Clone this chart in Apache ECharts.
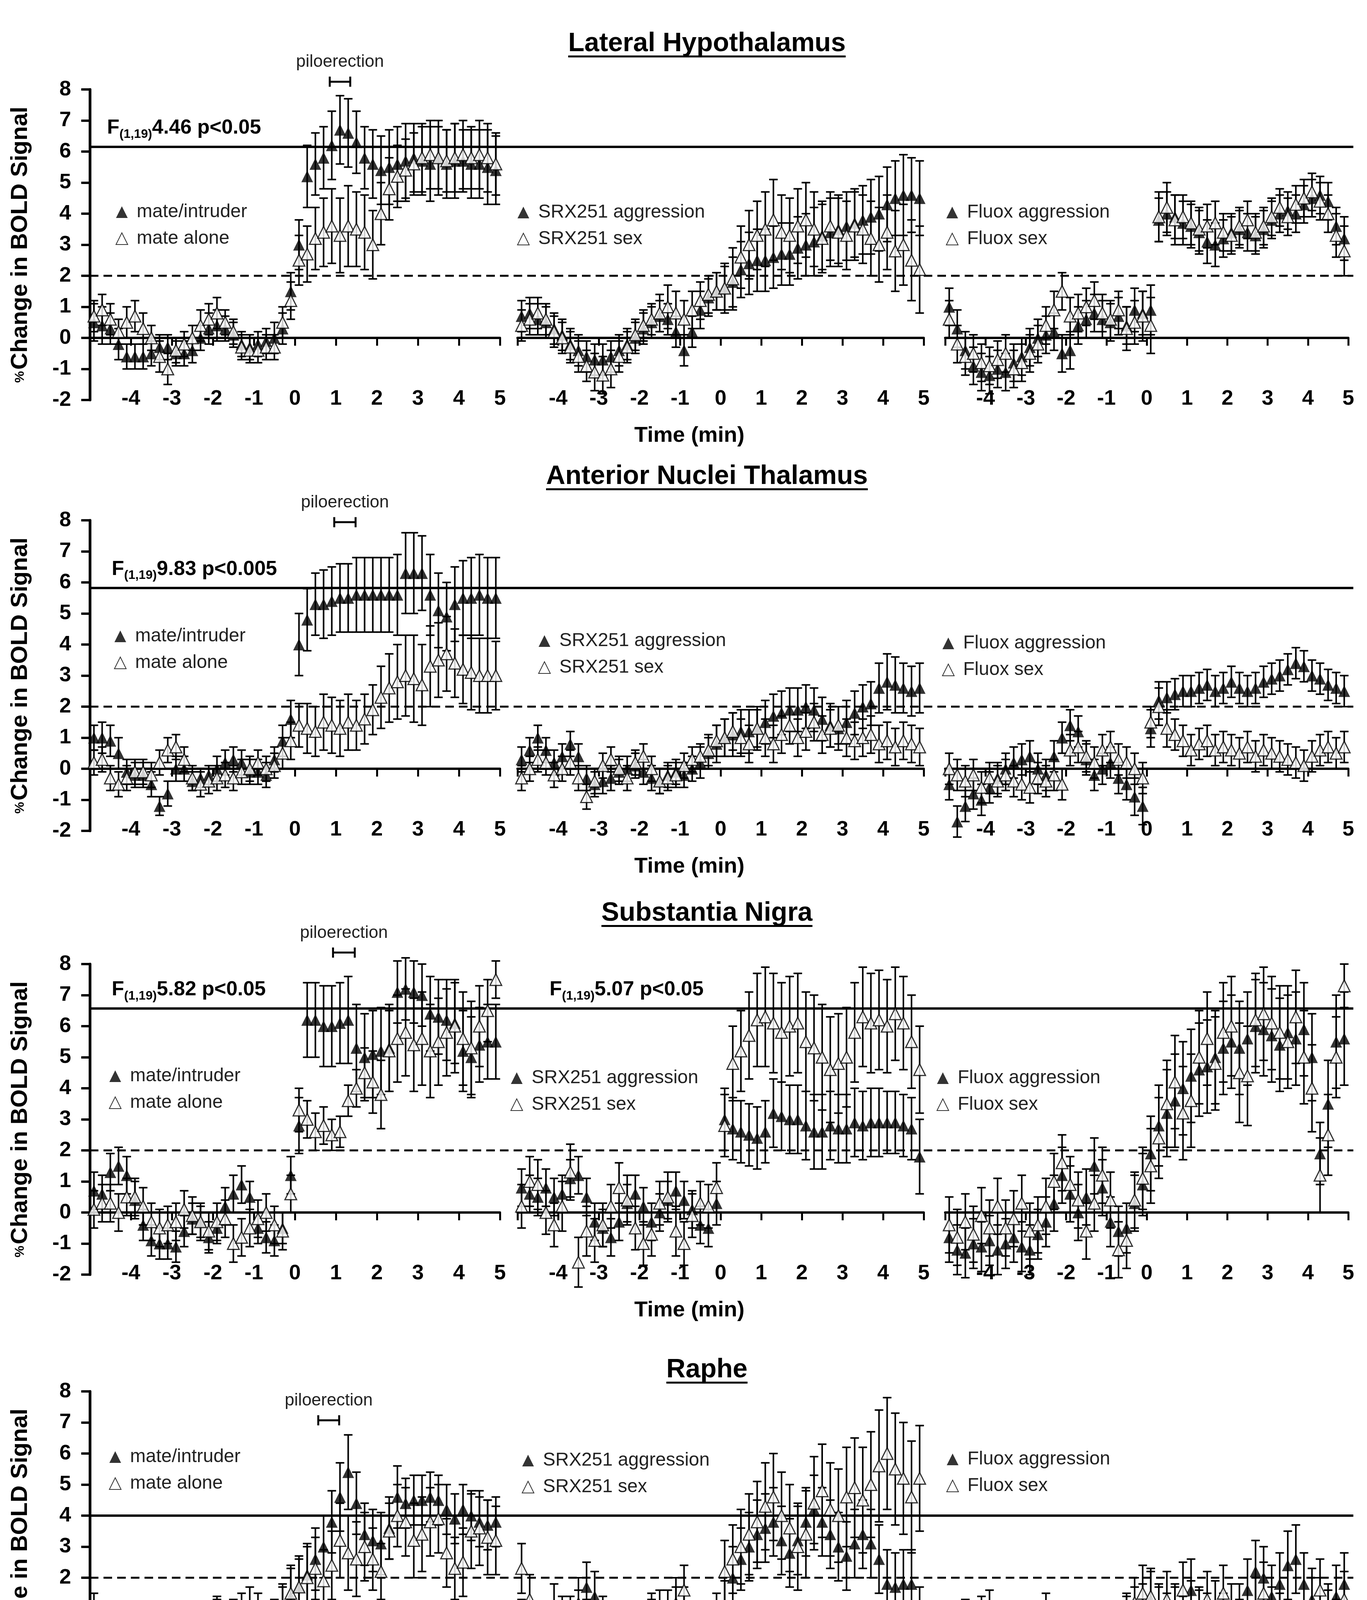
<!DOCTYPE html>
<html>
<head>
<meta charset="utf-8">
<script src="https://cdn.jsdelivr.net/npm/echarts@6/dist/echarts.min.js"></script>
<style>
  html, body { margin: 0; padding: 0; background: #fff; }
  #chart { width: 3500px; height: 5649px; }
</style>
</head>
<body>
<div id="chart"></div>
<script>
// sample times (min), one point every 12 s
const time = [-4.9,-4.7,-4.5,-4.3,-4.1,-3.9,-3.7,-3.5,-3.3,-3.1,
  -2.9,-2.7,-2.5,-2.3,-2.1,-1.9,-1.7,-1.5,-1.3,-1.1,
  -0.9,-0.7,-0.5,-0.3,-0.1,0.1,0.3,0.5,0.7,0.9,
  1.1,1.3,1.5,1.7,1.9,2.1,2.3,2.5,2.7,2.9,
  3.1,3.3,3.5,3.7,3.9,4.1,4.3,4.5,4.7,4.9];
const xTickLabels = [-4, -3, -2, -1, 0, 1, 2, 3, 4, 5];
const regions = ['Lateral Hypothalamus', 'Anterior Nuclei Thalamus', 'Substantia Nigra', 'Raphe', 'Periaqueductal Gray'];
const legendNames = [['mate/intruder', 'mate alone'], ['SRX251 aggression', 'SRX251 sex'], ['Fluox aggression', 'Fluox sex']];
const thresholds = [6.15, 5.82, 6.57, 4.0, 5.91];
const baseline = 2;
const statText = ['4.46 p<0.05', '9.83 p<0.005', '5.82 p<0.05', '5.07 p<0.05', '7.70 p<0.05'];
const statPanel = [[0, 0], [1, 0], [2, 0], [2, 1], [4, 0]];
const piloStart = [0.85, 0.96, 0.93, 0.57, 0.52];
const piloEnd = [1.35, 1.48, 1.46, 1.08, 1.04];
const piloLevel = [8.25, 7.94, 8.37, 7.07, 7.15];

// Lateral Hypothalamus
const lhMateIntr = [0.5,0.4,0.3,-0.2,-0.6,-0.6,-0.6,-0.5,-0.3,-0.3,
  -0.5,-0.5,-0.4,0.0,0.3,0.4,0.3,0.1,-0.2,-0.3,
  -0.2,-0.1,0.0,0.3,1.5,3.0,5.2,5.6,5.8,6.2,
  6.7,6.6,6.3,5.8,5.6,5.4,5.5,5.6,5.7,5.8,
  5.7,5.6,5.8,5.6,5.7,5.7,5.6,5.6,5.5,5.4];
const lhMateIntrErr = [0.6,0.6,0.5,0.5,0.4,0.4,0.4,0.4,0.4,0.4,
  0.4,0.4,0.4,0.4,0.5,0.5,0.4,0.4,0.4,0.4,
  0.4,0.4,0.5,0.5,0.6,0.8,1.0,1.0,1.0,1.1,
  1.1,1.1,1.0,1.0,1.1,1.1,1.2,1.2,1.2,1.1,
  1.1,1.2,1.2,1.1,1.2,1.0,1.1,1.1,1.2,1.1];
const lhMateAlone = [0.7,0.9,0.6,0.2,0.5,0.7,0.3,0.0,-0.6,-1.0,
  -0.4,-0.2,0.0,0.4,0.6,0.8,0.5,0.2,-0.3,-0.4,
  -0.4,-0.3,-0.3,0.5,1.2,2.5,2.7,3.2,3.4,3.6,
  3.3,3.6,3.5,3.4,3.0,4.0,4.8,5.2,5.4,5.6,
  5.8,5.9,5.8,5.7,5.8,5.9,5.8,5.9,5.8,5.6];
const lhMateAloneErr = [0.5,0.5,0.5,0.4,0.5,0.5,0.5,0.4,0.5,0.5,
  0.4,0.4,0.4,0.5,0.5,0.5,0.4,0.4,0.4,0.4,
  0.4,0.4,0.4,0.5,0.6,0.8,0.9,1.0,1.1,1.2,
  1.2,1.3,1.2,1.2,1.1,1.0,1.0,1.0,1.0,1.0,
  1.1,1.1,1.0,1.0,1.1,1.1,1.0,1.1,1.1,1.0];
const lhSrxAggr = [0.7,0.8,0.6,0.5,0.3,0.1,-0.2,-0.4,-0.6,-0.7,
  -0.7,-0.6,-0.4,-0.2,0.0,0.3,0.5,0.7,0.6,0.2,
  -0.4,0.2,0.9,1.3,1.5,1.6,1.8,2.2,2.4,2.5,
  2.5,2.6,2.7,2.7,2.9,3.0,3.1,3.3,3.4,3.5,
  3.6,3.7,3.8,3.9,4.0,4.3,4.5,4.6,4.6,4.5];
const lhSrxAggrErr = [0.5,0.5,0.5,0.5,0.5,0.5,0.5,0.5,0.5,0.5,
  0.5,0.5,0.5,0.5,0.5,0.5,0.5,0.5,0.5,0.5,
  0.5,0.5,0.6,0.6,0.6,0.7,0.8,0.9,1.0,1.0,
  1.0,1.0,1.0,1.0,1.0,1.0,1.1,1.1,1.1,1.1,
  1.1,1.1,1.1,1.2,1.2,1.2,1.2,1.3,1.2,1.2];
const lhSrxSex = [0.4,0.6,0.8,0.6,0.2,0.0,-0.3,-0.6,-0.9,-1.1,
  -1.2,-1.0,-0.6,-0.3,0.1,0.4,0.6,0.8,1.0,0.8,
  0.6,0.9,1.2,1.4,1.5,1.6,1.9,2.6,3.0,3.3,
  3.5,3.8,3.4,3.3,3.6,3.8,3.5,3.2,3.6,3.4,
  3.3,3.6,3.5,3.2,3.0,3.4,2.8,3.0,2.5,2.2];
const lhSrxSexErr = [0.5,0.5,0.5,0.5,0.5,0.5,0.5,0.5,0.5,0.6,
  0.6,0.6,0.5,0.5,0.5,0.5,0.5,0.6,0.7,0.7,
  0.6,0.6,0.6,0.6,0.6,0.8,1.0,1.0,1.1,1.1,
  1.2,1.3,1.2,1.2,1.2,1.2,1.2,1.1,1.1,1.1,
  1.1,1.1,1.1,1.2,1.2,1.2,1.3,1.3,1.3,1.4];
const lhFluoxAggr = [1.0,0.3,-0.4,-0.9,-1.1,-1.2,-1.0,-1.1,-0.8,-0.6,
  -0.3,0.0,0.1,0.2,-0.5,-0.4,0.4,0.6,0.8,0.6,
  0.5,0.7,0.4,0.9,0.8,0.9,3.8,4.0,3.9,3.7,
  3.6,3.4,3.1,3.0,3.2,3.4,3.5,3.4,3.3,3.5,
  3.8,4.0,4.1,4.0,4.3,4.5,4.6,4.4,3.6,3.2];
const lhFluoxAggrErr = [0.6,0.6,0.6,0.6,0.6,0.6,0.6,0.6,0.6,0.6,
  0.6,0.6,0.6,0.6,0.6,0.6,0.6,0.6,0.6,0.6,
  0.6,0.6,0.6,0.7,0.7,0.8,0.7,0.7,0.7,0.7,
  0.7,0.7,0.7,0.7,0.6,0.6,0.6,0.6,0.6,0.6,
  0.6,0.6,0.6,0.6,0.6,0.6,0.6,0.6,0.6,0.7];
const lhFluoxSex = [0.6,-0.2,-0.6,-0.5,-0.8,-0.9,-0.7,-0.5,-1.0,-0.8,
  -0.5,-0.2,0.4,0.9,1.5,0.7,0.8,1.0,1.2,0.8,
  0.6,0.9,0.3,0.5,0.7,0.4,3.9,4.2,3.8,3.9,
  3.7,3.5,3.6,3.7,3.4,3.3,3.6,3.8,3.4,3.6,
  3.9,4.2,3.9,4.3,4.5,4.7,4.4,4.0,3.3,2.8];
const lhFluoxSexErr = [0.6,0.6,0.6,0.6,0.6,0.6,0.6,0.6,0.6,0.6,
  0.6,0.6,0.6,0.6,0.6,0.6,0.6,0.6,0.6,0.6,
  0.6,0.6,0.7,0.7,0.8,0.9,0.8,0.8,0.8,0.7,
  0.7,0.7,0.7,0.7,0.6,0.6,0.6,0.6,0.6,0.6,
  0.6,0.6,0.6,0.6,0.6,0.6,0.6,0.6,0.7,0.8];

// Anterior Nuclei Thalamus
const antMateIntr = [1.0,1.0,0.9,0.5,-0.1,-0.2,-0.2,-0.5,-1.2,-0.8,
  0.0,0.0,-0.4,-0.3,-0.2,0.0,0.2,0.3,0.2,-0.1,
  -0.1,-0.2,0.3,0.9,1.6,4.0,4.8,5.3,5.3,5.4,
  5.5,5.5,5.6,5.6,5.6,5.6,5.6,5.6,6.3,6.3,
  6.3,5.6,5.1,4.9,5.3,5.5,5.5,5.6,5.5,5.5];
const antMateIntrErr = [0.4,0.5,0.5,0.5,0.4,0.4,0.4,0.4,0.3,0.4,
  0.4,0.4,0.3,0.3,0.3,0.4,0.4,0.4,0.4,0.4,
  0.4,0.4,0.4,0.5,0.6,1.0,1.0,1.0,1.1,1.1,
  1.1,1.1,1.2,1.2,1.2,1.2,1.2,1.3,1.3,1.3,
  1.2,1.3,1.2,1.1,1.2,1.2,1.3,1.3,1.3,1.3];
const antMateAlone = [0.2,0.3,-0.3,-0.5,-0.3,-0.1,-0.1,-0.2,0.2,0.6,
  0.7,0.3,-0.3,-0.5,-0.4,-0.3,-0.2,-0.3,-0.1,0.0,
  0.2,0.0,0.1,0.5,0.9,1.4,1.3,1.2,1.5,1.4,
  1.3,1.5,1.4,1.6,1.9,2.3,2.6,2.8,3.0,2.9,
  2.7,3.3,3.5,3.7,3.4,3.2,3.1,3.0,3.0,3.0];
const antMateAloneErr = [0.4,0.4,0.4,0.4,0.4,0.4,0.4,0.4,0.4,0.4,
  0.4,0.4,0.4,0.4,0.4,0.4,0.4,0.4,0.4,0.4,
  0.4,0.4,0.4,0.5,0.6,0.7,0.8,0.8,0.9,0.9,
  0.9,0.9,0.8,0.8,0.8,1.0,1.1,1.2,1.3,1.4,
  1.3,1.3,1.2,1.2,1.1,1.1,1.2,1.2,1.2,1.1];
const antSrxAggr = [0.3,0.6,1.0,0.6,0.2,0.4,0.8,0.4,-0.3,-0.5,
  -0.4,-0.3,-0.1,0.0,0.1,-0.1,-0.3,-0.4,-0.2,-0.1,
  -0.2,0.0,0.2,0.5,0.8,1.0,1.1,1.2,1.2,1.3,
  1.5,1.7,1.8,1.9,1.9,2.0,1.9,1.6,1.4,1.3,
  1.5,1.8,2.0,2.1,2.6,2.8,2.7,2.6,2.5,2.6];
const antSrxAggrErr = [0.4,0.4,0.4,0.4,0.4,0.4,0.4,0.4,0.4,0.4,
  0.4,0.4,0.4,0.4,0.4,0.4,0.4,0.4,0.4,0.4,
  0.4,0.4,0.5,0.5,0.6,0.6,0.7,0.7,0.7,0.7,
  0.7,0.7,0.7,0.7,0.7,0.7,0.7,0.7,0.7,0.7,
  0.7,0.7,0.7,0.7,0.8,0.9,0.9,0.8,0.8,0.8];
const antSrxSex = [-0.3,0.0,0.3,0.2,-0.2,0.0,0.2,-0.3,-0.9,-0.4,
  0.1,0.3,0.0,-0.3,0.2,0.4,0.0,-0.4,-0.3,-0.2,
  0.1,0.3,0.4,0.6,0.9,1.0,1.2,1.0,0.8,1.3,
  1.0,0.8,1.1,1.4,1.0,1.2,1.5,1.1,1.3,1.4,
  1.0,0.9,1.0,1.1,0.8,0.9,0.7,0.9,0.8,0.7];
const antSrxSexErr = [0.4,0.4,0.4,0.4,0.4,0.4,0.4,0.4,0.4,0.4,
  0.4,0.4,0.4,0.4,0.4,0.4,0.4,0.4,0.4,0.4,
  0.4,0.4,0.4,0.5,0.5,0.6,0.6,0.6,0.6,0.6,
  0.6,0.6,0.6,0.6,0.6,0.6,0.6,0.6,0.6,0.6,
  0.6,0.6,0.6,0.6,0.6,0.6,0.6,0.6,0.6,0.6];
const antFluoxAggr = [-0.5,-1.7,-1.2,-0.8,-1.0,-0.6,-0.3,0.0,0.2,0.3,
  0.4,0.0,-0.2,0.4,1.0,1.4,1.2,0.3,-0.2,0.0,
  0.2,-0.3,-0.5,-0.9,-1.2,1.3,2.2,2.3,2.4,2.5,
  2.5,2.6,2.7,2.5,2.6,2.8,2.6,2.5,2.6,2.8,
  2.9,3.0,3.2,3.4,3.3,3.0,2.9,2.7,2.6,2.5];
const antFluoxAggrErr = [0.5,0.5,0.5,0.5,0.5,0.5,0.5,0.5,0.5,0.5,
  0.5,0.5,0.5,0.5,0.5,0.5,0.5,0.5,0.5,0.5,
  0.5,0.5,0.5,0.6,0.6,0.6,0.6,0.5,0.5,0.5,
  0.5,0.5,0.5,0.5,0.5,0.5,0.5,0.5,0.5,0.5,
  0.5,0.5,0.5,0.5,0.5,0.5,0.5,0.5,0.5,0.5];
const antFluoxSex = [0.0,-0.2,-0.4,-0.2,-0.6,-0.3,-0.4,-0.2,-0.4,-0.5,
  -0.6,-0.3,-0.4,-0.2,-0.5,0.6,0.7,0.4,0.2,0.6,
  0.7,0.3,0.2,0.0,-0.3,1.5,2.0,1.3,1.1,0.9,
  0.6,0.8,0.9,0.6,0.7,0.6,0.5,0.7,0.4,0.6,
  0.5,0.4,0.3,0.2,0.1,0.4,0.6,0.7,0.5,0.7];
const antFluoxSexErr = [0.5,0.5,0.5,0.5,0.5,0.5,0.5,0.5,0.5,0.5,
  0.5,0.5,0.5,0.5,0.5,0.5,0.5,0.5,0.5,0.5,
  0.5,0.5,0.5,0.5,0.5,0.5,0.6,0.6,0.5,0.5,
  0.5,0.5,0.5,0.5,0.5,0.5,0.5,0.5,0.5,0.5,
  0.5,0.5,0.5,0.5,0.5,0.5,0.5,0.5,0.5,0.5];

// Substantia Nigra
const snMateIntr = [0.7,0.6,1.3,1.5,1.2,0.4,-0.4,-0.9,-1.0,-1.0,
  -1.1,-0.6,-0.2,-0.3,-0.8,-0.5,0.2,0.6,0.9,0.5,
  -0.5,-0.8,-0.9,-0.5,1.2,2.8,6.2,6.2,6.0,6.0,
  6.1,6.2,5.3,5.0,5.1,5.2,5.3,7.1,7.2,7.1,
  7.0,6.4,6.3,6.2,6.1,5.2,5.0,5.4,5.5,5.5];
const snMateIntrErr = [0.6,0.6,0.6,0.6,0.6,0.6,0.5,0.5,0.5,0.5,
  0.5,0.5,0.5,0.5,0.5,0.5,0.6,0.6,0.6,0.5,
  0.5,0.5,0.5,0.5,0.6,0.9,1.2,1.2,1.3,1.3,
  1.3,1.4,1.4,1.4,1.4,1.4,1.4,1.0,1.0,1.0,
  1.0,1.2,1.2,1.3,1.3,1.3,1.3,1.2,1.2,1.2];
const snMateAlone = [0.1,0.3,0.3,0.0,0.5,0.5,0.2,-0.3,-0.5,-0.4,
  -0.3,0.1,-0.1,-0.3,-0.6,-0.3,-0.2,-1.0,-0.8,-0.5,
  -0.2,0.0,-0.4,-0.6,0.6,3.3,3.0,2.6,2.8,2.5,
  2.6,3.6,4.0,4.5,4.2,3.8,5.2,5.6,5.8,5.4,
  5.6,5.2,5.5,5.8,6.0,5.6,5.3,6.0,6.5,7.5];
const snMateAloneErr = [0.6,0.6,0.6,0.6,0.6,0.6,0.6,0.6,0.6,0.6,
  0.6,0.6,0.6,0.6,0.6,0.6,0.6,0.6,0.6,0.6,
  0.6,0.6,0.6,0.6,0.6,0.7,0.6,0.6,0.6,0.5,
  0.5,0.5,0.6,0.8,1.0,1.1,1.3,1.4,1.4,1.5,
  1.5,1.5,1.4,1.4,1.5,1.5,1.5,1.3,1.0,0.6];
const snSrxAggr = [0.8,0.6,0.5,0.8,0.5,0.6,1.1,1.2,0.5,-0.3,
  -0.5,-0.8,-0.3,0.3,0.6,0.2,-0.3,0.0,0.4,0.7,
  0.4,0.1,-0.4,-0.5,0.3,3.0,2.7,2.6,2.5,2.4,
  2.6,3.2,3.1,3.0,3.0,2.8,2.6,2.6,2.8,2.7,
  2.7,2.9,2.8,2.9,2.9,2.9,2.9,2.8,2.7,1.8];
const snSrxAggrErr = [0.6,0.6,0.6,0.6,0.6,0.6,0.6,0.6,0.6,0.6,
  0.6,0.6,0.6,0.6,0.6,0.6,0.6,0.6,0.6,0.6,
  0.6,0.6,0.6,0.6,0.7,1.0,1.0,1.0,1.0,1.0,
  1.0,1.1,1.1,1.1,1.1,1.1,1.2,1.2,1.1,1.1,
  1.1,1.1,1.1,1.1,1.1,1.0,1.0,1.0,1.0,1.2];
const snSrxSex = [0.2,1.0,0.9,0.0,-0.4,0.2,1.3,-1.6,-0.6,-0.9,
  -0.4,0.2,0.8,0.4,-0.5,-1.0,-0.7,0.3,0.5,-0.6,
  -1.0,-0.1,0.3,0.2,0.8,2.8,4.8,5.2,5.7,6.2,
  6.3,6.1,5.8,6.0,6.1,5.5,5.3,5.0,4.6,4.8,
  5.0,5.8,6.3,6.1,6.2,6.0,6.4,6.1,5.5,4.6];
const snSrxSexErr = [0.7,0.8,0.8,0.7,0.7,0.8,0.9,0.8,0.8,0.7,
  0.7,0.7,0.8,0.8,0.7,0.7,0.7,0.7,0.8,0.8,
  0.7,0.7,0.7,0.7,0.8,1.0,1.2,1.3,1.4,1.5,
  1.6,1.6,1.6,1.6,1.6,1.6,1.7,1.7,1.7,1.6,
  1.6,1.6,1.6,1.6,1.6,1.5,1.5,1.5,1.5,1.4];
const snFluoxAggr = [-0.8,-1.2,-1.3,-1.0,-1.1,-0.9,-1.2,-1.0,-0.8,-1.1,
  -1.2,-0.7,-0.3,0.3,1.2,0.6,0.0,0.5,1.5,0.8,
  -0.3,-0.6,-0.5,0.3,0.9,1.9,2.8,3.2,3.6,4.0,
  4.4,4.6,4.7,5.0,5.3,5.5,5.3,5.6,6.0,5.9,
  5.7,5.4,5.8,5.6,5.9,5.0,1.9,3.5,5.5,5.6];
const snFluoxAggrErr = [0.8,0.8,0.8,0.8,0.8,0.8,0.8,0.8,0.8,0.8,
  0.8,0.8,0.8,0.9,0.9,0.9,0.9,0.9,0.9,0.9,
  0.8,0.8,0.8,0.9,1.0,1.2,1.3,1.4,1.5,1.5,
  1.5,1.5,1.5,1.5,1.5,1.5,1.5,1.5,1.5,1.5,
  1.5,1.5,1.5,1.5,1.5,1.4,1.0,1.4,1.5,1.5];
const snFluoxSex = [-0.4,-0.8,-0.3,-0.7,-0.1,-0.5,0.2,-0.5,-0.2,0.3,
  -0.6,-0.4,0.2,1.0,1.6,0.9,0.4,-0.6,0.3,1.2,
  0.4,-1.2,-0.9,0.4,1.1,1.5,2.4,3.5,4.2,3.2,
  3.6,5.0,5.6,4.8,5.8,6.0,4.5,4.4,6.2,6.4,
  6.1,5.8,5.5,6.3,5.0,4.0,1.2,2.5,5.0,7.3];
const snFluoxSexErr = [0.9,0.9,0.9,0.9,0.9,0.9,0.9,0.9,0.9,0.9,
  0.9,0.9,0.9,0.9,0.9,0.9,0.9,0.9,0.9,0.9,
  0.9,0.9,0.9,0.9,1.0,1.2,1.3,1.4,1.5,1.5,
  1.5,1.5,1.5,1.5,1.6,1.6,1.6,1.6,1.5,1.5,
  1.5,1.5,1.5,1.5,1.5,1.4,1.2,1.3,1.3,0.7];

// Raphe
const rapheMateIntr = [0.8,0.3,-0.2,-0.6,-0.9,-1.4,-1.0,-0.2,0.2,-0.4,
  -0.3,-0.2,-0.3,-0.5,0.2,0.5,0.4,0.5,0.7,0.9,
  0.7,0.2,0.5,1.0,1.4,1.7,2.1,2.6,3.0,3.8,
  4.6,5.4,4.4,3.4,3.2,3.1,3.6,4.6,4.4,4.5,
  4.5,4.6,4.5,4.2,3.9,4.2,4.0,3.8,3.7,3.8];
const rapheMateIntrErr = [0.7,0.8,0.8,0.8,0.7,0.5,0.6,0.8,0.8,0.7,
  0.7,0.7,0.7,0.7,0.8,0.8,0.8,0.8,0.8,0.8,
  0.8,0.8,0.8,0.8,0.9,0.9,1.0,1.0,1.0,1.0,
  1.1,1.2,1.0,1.0,1.0,1.0,1.0,1.0,0.8,0.8,
  0.8,0.8,0.8,0.8,0.8,0.8,0.8,0.8,0.8,0.8];
const rapheMateAlone = [0.2,-0.4,0.0,-0.5,-1.2,-1.8,-1.6,-1.0,-1.5,-0.9,
  -0.6,0.0,0.4,0.2,0.1,0.7,0.0,0.4,-0.2,0.0,
  -0.4,-0.2,0.3,0.9,1.5,1.7,2.0,2.3,1.9,2.4,
  3.2,2.8,2.6,3.0,2.6,2.2,3.5,4.0,3.8,3.2,
  3.4,3.8,3.9,2.8,2.3,2.5,3.5,3.6,3.3,3.2];
const rapheMateAloneErr = [0.8,0.9,0.9,0.8,0.7,0.4,0.5,0.7,0.6,0.7,
  0.7,0.7,0.7,0.7,0.7,0.7,0.7,0.7,0.7,0.7,
  0.7,0.8,0.8,0.8,0.9,1.0,1.0,1.0,1.0,1.1,
  1.2,1.2,1.2,1.1,1.0,0.9,0.9,1.0,1.1,1.2,
  1.2,1.1,1.1,1.1,1.0,1.1,1.2,1.2,1.2,1.1];
const rapheSrxAggr = [0.6,0.3,0.2,0.1,0.3,0.5,0.7,1.2,1.7,1.4,
  0.6,-0.3,-0.8,-0.6,-0.2,0.2,0.5,0.8,0.8,1.2,
  0.9,0.3,-0.2,-0.6,0.2,1.0,2.0,2.6,3.0,3.4,
  3.6,3.8,3.2,2.8,3.2,3.8,4.2,3.8,3.4,3.0,
  2.7,3.1,3.4,3.1,2.6,1.8,1.7,1.8,1.8,0.7];
const rapheSrxAggrErr = [0.7,0.7,0.7,0.7,0.7,0.7,0.7,0.8,0.8,0.8,
  0.8,0.8,0.8,0.8,0.8,0.8,0.8,0.8,0.8,0.8,
  0.8,0.8,0.8,0.8,0.8,0.9,1.0,1.0,1.1,1.1,
  1.1,1.1,1.1,1.1,1.1,1.1,1.1,1.1,1.1,1.1,
  1.1,1.1,1.1,1.1,1.1,1.1,1.1,1.1,1.1,1.0];
const rapheSrxSex = [2.3,1.3,0.4,0.0,1.0,0.6,0.2,0.8,0.5,-0.1,
  -0.6,-1.3,-1.8,-1.5,-0.3,0.3,0.7,-0.2,-0.6,0.9,
  1.6,0.2,-0.5,-1.0,0.6,2.2,2.6,3.0,3.4,3.8,
  4.3,4.6,4.0,3.6,3.0,3.4,4.4,4.8,4.2,4.0,
  4.6,4.9,4.5,5.0,5.6,6.0,5.5,5.2,4.6,5.2];
const rapheSrxSexErr = [0.8,0.8,0.8,0.8,0.8,0.8,0.8,0.8,0.8,0.8,
  0.8,0.8,0.6,0.7,0.8,0.8,0.8,0.8,0.8,0.8,
  0.8,0.8,0.8,0.8,0.9,1.0,1.1,1.2,1.3,1.3,
  1.4,1.4,1.4,1.4,1.4,1.4,1.5,1.5,1.5,1.5,
  1.6,1.6,1.7,1.7,1.8,1.8,1.8,1.8,1.8,1.7];
const rapheFluoxAggr = [-0.4,-0.8,-0.3,-0.6,-0.2,-0.5,-0.7,-0.5,-0.2,-0.6,
  -0.7,-0.3,0.1,0.2,-0.3,-0.1,0.2,0.0,-0.6,-0.7,
  -0.3,0.1,0.6,0.9,1.0,1.3,0.9,0.6,0.8,0.5,
  1.6,0.8,0.6,0.3,0.6,0.3,0.9,1.6,2.2,2.0,
  1.4,1.8,2.4,2.6,1.8,1.3,1.0,0.8,1.4,1.8];
const rapheFluoxAggrErr = [0.8,0.8,0.9,0.9,0.8,0.8,0.8,0.8,0.8,0.8,
  0.8,0.8,0.8,0.8,0.8,0.8,0.8,0.8,0.9,0.9,
  0.9,0.8,0.8,0.8,0.8,0.9,0.9,0.9,0.9,0.9,
  1.0,0.9,0.9,0.9,0.9,0.9,0.9,1.0,1.0,1.0,
  1.0,1.0,1.1,1.1,1.0,1.0,1.0,1.0,1.0,1.0];
const rapheFluoxSex = [-0.2,0.3,0.5,0.3,0.6,0.8,0.3,-0.4,-0.6,-0.9,
  -0.3,0.4,0.7,0.2,-0.6,-1.0,-0.5,0.1,-0.8,-1.2,
  -0.6,0.3,0.7,1.2,1.5,1.4,0.8,1.3,0.9,1.6,
  1.0,0.7,1.3,1.0,1.5,0.9,0.4,0.2,1.0,1.5,
  0.6,0.3,0.0,-0.5,0.2,1.0,1.6,0.7,0.4,1.3];
const rapheFluoxSexErr = [0.8,0.8,0.8,0.8,0.8,0.8,0.8,0.8,0.8,0.8,
  0.8,0.8,0.8,0.8,0.8,0.8,0.8,0.8,0.8,0.8,
  0.8,0.8,0.8,0.8,0.9,0.9,0.9,0.9,0.9,0.9,
  0.9,0.9,0.9,0.9,0.9,0.9,0.9,0.9,1.0,1.0,
  1.1,1.2,1.2,1.2,1.0,1.0,1.0,0.9,0.9,0.9];

// Periaqueductal Gray
const pagMateIntr = [1.2,1.3,1.1,0.6,-0.1,-0.5,-0.6,-0.6,-0.8,-0.7,
  -0.4,-0.5,-0.8,-1.0,-0.1,0.4,0.6,0.5,0.4,0.3,
  0.1,0.0,0.1,0.2,1.0,2.3,4.5,4.8,5.2,5.4,
  5.5,5.6,5.4,5.1,5.0,5.3,5.6,6.3,6.1,5.8,
  5.6,5.4,5.2,5.1,5.2,5.4,5.3,5.0,4.7,4.4];
const pagMateIntrErr = [0.5,0.5,0.5,0.5,0.4,0.4,0.4,0.4,0.4,0.4,
  0.4,0.4,0.4,0.4,0.5,0.5,0.5,0.5,0.5,0.5,
  0.5,0.5,0.5,0.5,0.6,0.7,0.9,1.0,1.0,1.1,
  1.1,1.1,1.1,1.1,1.2,1.2,1.2,1.1,1.1,1.1,
  1.1,1.2,1.3,1.3,1.4,1.4,1.4,1.4,1.3,1.2];
const pagMateAlone = [1.0,1.2,0.8,0.5,0.0,-0.2,-0.3,-0.2,-0.4,0.0,
  0.2,0.3,0.4,0.2,0.6,0.4,0.2,0.3,0.1,-0.5,
  -0.8,-0.3,0.2,0.6,1.4,0.6,1.4,2.1,2.2,2.3,
  2.6,3.0,3.5,3.9,4.1,4.4,4.6,4.5,4.3,4.7,
  5.0,5.2,5.0,5.3,5.4,5.5,5.3,5.6,5.2,5.0];
const pagMateAloneErr = [0.6,0.6,0.5,0.5,0.4,0.4,0.4,0.4,0.4,0.4,
  0.4,0.4,0.4,0.4,0.4,0.4,0.4,0.4,0.4,0.4,
  0.4,0.4,0.4,0.5,0.5,0.6,0.6,0.7,0.7,0.7,
  0.8,0.9,1.0,1.0,1.1,1.2,1.3,1.4,1.4,1.4,
  1.4,1.3,1.3,1.2,1.2,1.2,1.2,1.2,1.3,1.3];
const pagSrxAggr = [-0.8,-0.6,-0.2,-0.1,0.2,0.1,0.0,0.3,-0.1,0.2,
  0.5,1.0,1.8,0.7,-0.3,-1.2,-0.9,-0.2,0.0,-0.3,
  0.1,0.3,0.6,0.8,1.0,2.2,2.5,2.6,2.7,3.0,
  2.6,2.8,3.0,3.2,3.2,2.9,2.7,2.4,2.2,2.5,
  2.8,2.6,2.4,2.7,2.9,3.2,3.6,3.4,4.2,4.7];
const pagSrxAggrErr = [0.7,0.7,0.7,0.7,0.7,0.7,0.7,0.7,0.7,0.7,
  0.7,0.7,0.7,0.7,0.7,0.7,0.7,0.7,0.7,0.7,
  0.7,0.7,0.7,0.7,0.7,0.7,0.7,0.7,0.7,0.7,
  0.7,0.7,0.7,0.7,0.7,0.7,0.7,0.7,0.7,0.7,
  0.7,0.7,0.7,0.7,0.7,0.8,0.8,0.8,1.0,1.2];
const pagSrxSex = [1.6,1.2,0.9,0.7,0.4,0.8,0.5,0.2,0.4,-0.2,
  -0.7,-0.4,1.6,0.8,0.1,-0.2,-0.4,0.3,0.5,0.6,
  0.4,0.0,-0.5,0.4,1.2,1.6,2.0,2.5,2.8,3.0,
  2.4,2.2,2.5,2.3,2.9,2.2,2.0,1.8,1.9,2.4,
  2.1,2.6,2.9,2.4,2.6,2.2,2.5,2.8,3.0,3.8];
const pagSrxSexErr = [0.7,0.7,0.7,0.7,0.7,0.7,0.7,0.7,0.7,0.7,
  0.7,0.7,0.7,0.7,0.7,0.7,0.7,0.7,0.7,0.7,
  0.7,0.7,0.7,0.7,0.7,0.7,0.7,0.7,0.7,0.7,
  0.7,0.7,0.7,0.7,0.7,0.7,0.7,0.7,0.7,0.7,
  0.7,0.7,0.7,0.7,0.7,0.7,0.7,0.7,0.8,0.9];
const pagFluoxAggr = [1.0,0.6,0.3,0.2,0.4,0.3,0.1,0.0,-0.3,-0.8,
  -1.1,-0.4,0.1,-0.1,0.3,0.5,0.2,0.0,0.4,0.1,
  0.2,0.4,0.6,0.3,0.1,1.2,1.5,1.4,1.8,2.3,
  2.8,2.8,2.4,2.6,2.7,2.3,1.9,1.7,1.6,2.3,
  2.8,3.1,2.9,2.6,2.5,2.7,2.6,2.4,3.0,2.3];
const pagFluoxAggrErr = [0.5,0.5,0.5,0.5,0.5,0.5,0.5,0.5,0.5,0.5,
  0.5,0.5,0.5,0.5,0.5,0.5,0.5,0.5,0.5,0.5,
  0.5,0.5,0.5,0.5,0.5,0.8,0.9,0.9,1.0,1.0,
  1.1,1.1,1.1,1.0,1.0,1.0,1.0,1.0,1.0,1.1,
  1.1,1.2,1.2,1.2,1.1,1.1,1.1,1.1,1.2,1.2];
const pagFluoxSex = [0.8,0.5,0.9,0.6,0.4,1.0,0.6,0.3,0.5,0.0,
  -0.5,0.2,0.4,0.6,0.2,0.4,0.8,0.5,0.3,0.6,
  0.2,0.5,0.8,0.9,1.1,1.4,1.6,1.2,1.1,0.9,
  1.5,1.0,0.9,1.3,1.1,1.0,1.2,1.4,1.0,1.2,
  0.9,1.1,1.5,1.3,1.0,1.2,1.4,1.1,1.3,1.1];
const pagFluoxSexErr = [0.6,0.6,0.6,0.6,0.6,0.6,0.6,0.6,0.6,0.6,
  0.6,0.6,0.6,0.6,0.6,0.6,0.6,0.6,0.6,0.6,
  0.6,0.6,0.6,0.6,0.6,0.8,0.9,0.9,0.9,0.9,
  0.9,0.9,0.9,0.9,0.9,0.9,0.9,0.9,0.9,0.9,
  0.9,0.9,0.9,0.9,0.9,0.9,0.9,0.9,0.9,0.9];

const panels = [
  [[lhMateIntr, lhMateIntrErr, lhMateAlone, lhMateAloneErr],
   [lhSrxAggr, lhSrxAggrErr, lhSrxSex, lhSrxSexErr],
   [lhFluoxAggr, lhFluoxAggrErr, lhFluoxSex, lhFluoxSexErr]],
  [[antMateIntr, antMateIntrErr, antMateAlone, antMateAloneErr],
   [antSrxAggr, antSrxAggrErr, antSrxSex, antSrxSexErr],
   [antFluoxAggr, antFluoxAggrErr, antFluoxSex, antFluoxSexErr]],
  [[snMateIntr, snMateIntrErr, snMateAlone, snMateAloneErr],
   [snSrxAggr, snSrxAggrErr, snSrxSex, snSrxSexErr],
   [snFluoxAggr, snFluoxAggrErr, snFluoxSex, snFluoxSexErr]],
  [[rapheMateIntr, rapheMateIntrErr, rapheMateAlone, rapheMateAloneErr],
   [rapheSrxAggr, rapheSrxAggrErr, rapheSrxSex, rapheSrxSexErr],
   [rapheFluoxAggr, rapheFluoxAggrErr, rapheFluoxSex, rapheFluoxSexErr]],
  [[pagMateIntr, pagMateIntrErr, pagMateAlone, pagMateAloneErr],
   [pagSrxAggr, pagSrxAggrErr, pagSrxSex, pagSrxSexErr],
   [pagFluoxAggr, pagFluoxAggrErr, pagFluoxSex, pagFluoxSexErr]]
];

// layout (px)
const FONT = '"Liberation Sans", Arial, Helvetica, sans-serif';
const rowTop = [229, 1332, 2468, 3562, 4652];
const rowHeight = 795;
const titleY = [112, 1220, 2338, 3507, 4593];
const panelLeft = [230, 1325, 2420];
const panelWidth = [1050, 1040, 1032];
const lineRight = 3465;
const legendPos = [
  [[311, 543], [1339, 544], [2437, 544]],
  [[307, 1629], [1393, 1641], [2427, 1647]],
  [[294, 2755], [1322, 2760], [2413, 2760]],
  [[294, 3730], [1351, 3739], [2438, 3736]],
  [[294, 4949], [1361, 4946], [2444, 4953]]
];
const statLeft = [274, 286, 286, 1407, 274];

const measureCtx = document.createElement('canvas').getContext('2d');
function textWidth(str, font) {
  measureCtx.font = font;
  return measureCtx.measureText(str).width;
}

function errorBars(p, vals, errs) {
  return {
    type: 'custom',
    xAxisIndex: 2 * p,
    yAxisIndex: p,
    silent: true,
    z: 2,
    data: time.map((t, i) => [t, vals[i] - errs[i], vals[i] + errs[i]]),
    encode: {x: 0, y: [1, 2]},
    renderItem: (params, api) => {
      const lo = api.coord([api.value(0), api.value(1)]);
      const hi = api.coord([api.value(0), api.value(2)]);
      const cap = 11;
      const st = {stroke: '#000', lineWidth: 4};
      return {
        type: 'group',
        children: [
          {type: 'line', shape: {x1: lo[0], y1: lo[1], x2: hi[0], y2: hi[1]}, style: st},
          {type: 'line', shape: {x1: hi[0] - cap, y1: hi[1], x2: hi[0] + cap, y2: hi[1]}, style: st},
          {type: 'line', shape: {x1: lo[0] - cap, y1: lo[1], x2: lo[0] + cap, y2: lo[1]}, style: st}
        ]
      };
    }
  };
}

const grid = [], xAxis = [], yAxis = [], series = [], legend = [], graphic = [];

panels.forEach((row, r) => {
  row.forEach((pan, c) => {
    const p = r * 3 + c;
    grid.push({left: panelLeft[c], top: rowTop[r], width: panelWidth[c], height: rowHeight});
    // zero line with ticks
    xAxis.push({
      gridIndex: p, type: 'value', min: -5, max: 5, interval: 1, position: 'bottom',
      axisLine: {show: true, onZero: true, lineStyle: {color: '#000', width: 6}},
      axisTick: {show: true, length: 20, lineStyle: {color: '#000', width: 5}},
      axisLabel: {show: false},
      splitLine: {show: false}
    });
    // tick labels at the bottom
    xAxis.push({
      gridIndex: p, type: 'value', min: -5, max: 5, interval: 1, position: 'bottom',
      axisLine: {show: false, onZero: false},
      axisTick: {show: false},
      splitLine: {show: false},
      axisLabel: {
        margin: -30, fontSize: 54, fontWeight: 'bold', color: '#000', fontFamily: FONT,
        showMinLabel: true, showMaxLabel: true,
        formatter: v => (xTickLabels.indexOf(v) >= 0 ? String(v) : '')
      }
    });
    if (c === 0) {
      yAxis.push({
        gridIndex: p, type: 'value', min: -2, max: 8, interval: 1,
        axisLine: {show: true, onZero: false, lineStyle: {color: '#000', width: 7}},
        axisTick: {show: true, length: 22, lineStyle: {color: '#000', width: 6}},
        axisLabel: {margin: 48, fontSize: 54, fontWeight: 'bold', color: '#000', fontFamily: FONT},
        splitLine: {show: false},
        name: '{p|%} {b|Change in BOLD Signal}',
        nameLocation: 'middle', nameGap: 148, nameRotate: 90,
        nameTextStyle: {
          color: '#000', fontFamily: FONT,
          rich: {
            p: {fontSize: 34, fontWeight: 'bold', fontFamily: FONT, color: '#000'},
            b: {fontSize: 60, fontWeight: 'bold', fontFamily: FONT, color: '#000'}
          }
        }
      });
    } else {
      yAxis.push({gridIndex: p, type: 'value', min: -2, max: 8, show: false, splitLine: {show: false}});
    }

    const [a, aErr, b, bErr] = pan;
    series.push(errorBars(p, a, aErr));
    series.push(errorBars(p, b, bErr));
    series.push({
      type: 'scatter', name: legendNames[c][0], xAxisIndex: 2 * p, yAxisIndex: p,
      data: time.map((t, i) => [t, a[i]]),
      symbol: 'triangle', symbolSize: 30, z: 3,
      itemStyle: {color: '#000'}
    });
    series.push({
      type: 'scatter', name: legendNames[c][1], xAxisIndex: 2 * p, yAxisIndex: p,
      data: time.map((t, i) => [t, b[i]]),
      symbol: 'triangle', symbolSize: 30, z: 4,
      itemStyle: {color: '#fff', borderColor: '#000', borderWidth: 3}
    });

    const [cx, cy] = legendPos[r][c];
    legend.push({
      data: legendNames[c],
      orient: 'vertical', left: cx - 15, top: cy - 24, padding: 0,
      itemWidth: 30, itemHeight: 30, itemGap: 20, selectedMode: false,
      textStyle: {fontSize: 48, color: '#222', fontFamily: FONT, padding: [0, 0, 0, 18]}
    });
  });
});

// row-wide reference lines, drawn on one grid per row
regions.forEach((name, r) => {
  const gi = 15 + r;
  grid.push({left: panelLeft[0], top: rowTop[r], width: lineRight - panelLeft[0], height: rowHeight});
  xAxis.push({gridIndex: gi, type: 'value', min: 0, max: 1, show: false, splitLine: {show: false}});
  yAxis.push({gridIndex: gi, type: 'value', min: -2, max: 8, show: false, splitLine: {show: false}});
  series.push({
    type: 'line', xAxisIndex: 30 + r, yAxisIndex: gi, silent: true, z: 1,
    data: [[0, thresholds[r]], [1, thresholds[r]]], symbol: 'none',
    lineStyle: {color: '#000', width: 6}
  });
  series.push({
    type: 'line', xAxisIndex: 30 + r, yAxisIndex: gi, silent: true, z: 1,
    data: [[0, baseline], [1, baseline]], symbol: 'none',
    lineStyle: {color: '#000', width: 5, type: [22, 13]}
  });

  // piloerection bracket in the first panel of each row
  series.push({
    type: 'custom', xAxisIndex: 6 * r, yAxisIndex: 3 * r, silent: true, z: 5,
    data: [[piloStart[r], piloEnd[r], piloLevel[r]]],
    renderItem: (params, api) => {
      const p0 = api.coord([api.value(0), api.value(2)]);
      const p1 = api.coord([api.value(1), api.value(2)]);
      const st = {stroke: '#000', lineWidth: 5};
      return {
        type: 'group',
        children: [
          {type: 'line', shape: {x1: p0[0], y1: p0[1], x2: p1[0], y2: p1[1]}, style: st},
          {type: 'line', shape: {x1: p0[0], y1: p0[1] - 13, x2: p0[0], y2: p0[1] + 13}, style: st},
          {type: 'line', shape: {x1: p1[0], y1: p1[1] - 13, x2: p1[0], y2: p1[1] + 13}, style: st},
          {type: 'text', x: (p0[0] + p1[0]) / 2, y: p0[1] - 50,
           style: {text: 'piloerection', fill: '#222', font: '44px ' + FONT,
                   textAlign: 'center', textVerticalAlign: 'middle', align: 'center', verticalAlign: 'middle'}}
        ]
      };
    }
  });

  // underlined title
  const tFont = 'bold 68px ' + FONT;
  const tw = textWidth(name, tFont);
  graphic.push({
    type: 'text', x: 1810, y: titleY[r],
    style: {text: name, fill: '#000', font: tFont, textAlign: 'center', textVerticalAlign: 'middle',
            align: 'center', verticalAlign: 'middle'}
  });
  graphic.push({type: 'rect', shape: {x: 1810 - tw / 2, y: titleY[r] + 30, width: tw, height: 5}, style: {fill: '#000'}});

  graphic.push({
    type: 'text', x: 1765, y: rowTop[r] + rowHeight + 92,
    style: {text: 'Time (min)', fill: '#000', font: 'bold 56px ' + FONT, textAlign: 'center',
            textVerticalAlign: 'middle', align: 'center', verticalAlign: 'middle'}
  });
});

// F statistics with subscript
statText.forEach((txt, k) => {
  const r = statPanel[k][0];
  const y = rowTop[r] + (8 - thresholds[r]) / 10 * rowHeight - 48;
  const big = 'bold 52px ' + FONT;
  const small = 'bold 32px ' + FONT;
  let x = statLeft[k];
  const parts = [['F', big, 0], ['(1,19)', small, 16], [txt, big, 0]];
  parts.forEach(([s, f, dy]) => {
    graphic.push({
      type: 'text', x: x, y: y + dy,
      style: {text: s, fill: '#000', font: f, textAlign: 'left', textVerticalAlign: 'middle',
              align: 'left', verticalAlign: 'middle'}
    });
    x += textWidth(s, f);
  });
});

const chart = echarts.init(document.getElementById('chart'));
chart.setOption({
  backgroundColor: '#fff',
  animation: false,
  grid: grid,
  xAxis: xAxis,
  yAxis: yAxis,
  legend: legend,
  series: series,
  graphic: graphic
});
window.addEventListener('resize', () => chart.resize());
</script>
</body>
</html>
